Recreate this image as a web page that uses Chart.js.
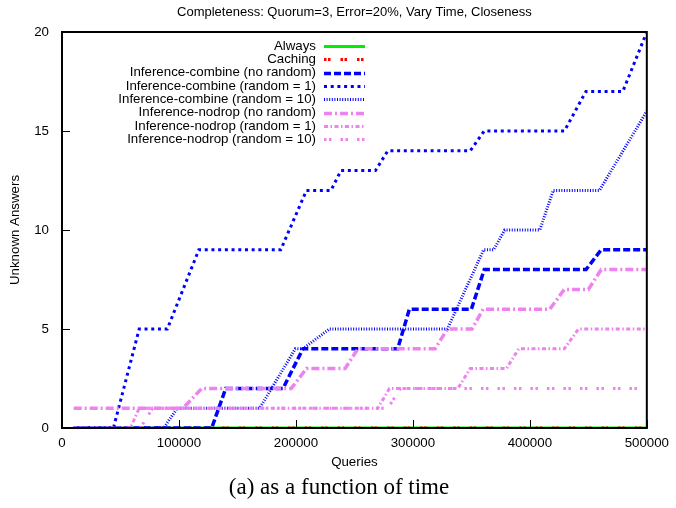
<!DOCTYPE html>
<html>
<head>
<meta charset="utf-8">
<script src="https://cdn.jsdelivr.net/npm/chart.js@4.4.1/dist/chart.umd.min.js"></script>
<style>
  html, body { margin: 0; padding: 0; background: #fff; }
  #wrap { width: 676px; height: 508px; position: relative; }
</style>
</head>
<body>
<div id="wrap"><canvas id="chart" width="676" height="508"></canvas></div>
<script>
// Axis ticks
const xTickValues = [0, 100000, 200000, 300000, 400000, 500000];
const yTickValues = [0, 5, 10, 15, 20];

// Series labels (legend order)
const seriesLabels = [
  'Always',
  'Caching',
  'Inference-combine (no random)',
  'Inference-combine (random = 1)',
  'Inference-combine (random = 10)',
  'Inference-nodrop (no random)',
  'Inference-nodrop (random = 1)',
  'Inference-nodrop (random = 10)'
];

// Queries / unknown answers per series
const alwaysQueries = [10000, 500000];
const alwaysValues  = [0, 0];

const cachingQueries = [10000, 500000];
const cachingValues  = [0, 0];

const combineNoRandomQueries = [10000, 128000, 140000, 189000, 206000, 287000, 297000, 350000, 361000, 448000, 461000, 500000];
const combineNoRandomValues  = [0, 0, 2, 2, 4, 4, 6, 6, 8, 8, 9, 9];

const combineRandom1Queries = [10000, 44000, 66000, 90000, 117000, 187000, 209000, 230000, 238500, 268000, 278500, 349000, 361000, 429500, 448000, 479500, 500000];
const combineRandom1Values  = [0, 0, 5, 5, 9, 9, 12, 12, 13, 13, 14, 14, 15, 15, 17, 17, 20];

const combineRandom10Queries = [10000, 87000, 98500, 169000, 199500, 206000, 228500, 329500, 360500, 369000, 378500, 408500, 420000, 459500, 500000];
const combineRandom10Values  = [0, 0, 1, 1, 4, 4, 5, 5, 9, 9, 10, 10, 12, 12, 16];

const nodropNoRandomQueries = [10000, 103500, 119500, 196000, 209000, 242000, 253000, 319000, 329500, 350500, 360000, 417000, 429500, 450000, 461000, 500000];
const nodropNoRandomValues  = [1, 1, 2, 2, 3, 3, 4, 4, 5, 5, 6, 6, 7, 7, 8, 8];

const nodropRandom1Queries = [10000, 58500, 66000, 270000, 280000, 338500, 349000, 380000, 390500, 429500, 441500, 500000];
const nodropRandom1Values  = [0, 0, 1, 1, 2, 2, 3, 3, 4, 4, 5, 5];

const nodropRandom10Queries = [10000, 67000, 77500, 278500, 289500, 500000];
const nodropRandom10Values  = [0, 0, 1, 1, 2, 2];

const toPoints = (qs, vs) => qs.map((q, i) => ({ x: q, y: vs[i] }));

const FONT = '"Liberation Sans", Arial, Helvetica, sans-serif';
const BLUE = '#0000ff';
const VIOLET = '#ee82ee';

const styles = [
  { color: '#00ee00', width: 3,   dash: [] },
  { color: '#ff0000', width: 3,   dash: [2.5, 1.5, 2.5, 10] },
  { color: BLUE,      width: 3.5, dash: [7, 3] },
  { color: BLUE,      width: 3,   dash: [3, 3.7] },
  { color: BLUE,      width: 3,   dash: [1, 1.6] },
  { color: VIOLET,    width: 3.5, dash: [8, 3, 2, 3] },
  { color: VIOLET,    width: 3,   dash: [4, 2.5, 1.5, 2.5] },
  { color: VIOLET,    width: 3,   dash: [2.5, 2.5, 2.5, 9] }
];

const seriesData = [
  toPoints(alwaysQueries, alwaysValues),
  toPoints(cachingQueries, cachingValues),
  toPoints(combineNoRandomQueries, combineNoRandomValues),
  toPoints(combineRandom1Queries, combineRandom1Values),
  toPoints(combineRandom10Queries, combineRandom10Values),
  toPoints(nodropNoRandomQueries, nodropNoRandomValues),
  toPoints(nodropRandom1Queries, nodropRandom1Values),
  toPoints(nodropRandom10Queries, nodropRandom10Values)
];

const datasets = seriesLabels.map((label, i) => ({
  label,
  data: seriesData[i],
  borderColor: styles[i].color,
  backgroundColor: styles[i].color,
  borderWidth: styles[i].width,
  borderDash: styles[i].dash,
  borderCapStyle: 'butt',
  pointRadius: 0,
  pointHoverRadius: 0,
  tension: 0,
  fill: false,
  order: -i   // later series are drawn on top
}));

// Frame, inward ticks, key and text labels
const decorations = {
  id: 'decorations',
  afterDatasetsDraw(chart) {
    const { ctx, chartArea: a, scales: { x, y } } = chart;
    ctx.save();

    // inward tick marks
    ctx.strokeStyle = '#000';
    ctx.lineWidth = 1;
    ctx.beginPath();
    xTickValues.forEach(v => {
      const px = Math.round(x.getPixelForValue(v)) + 0.5;
      ctx.moveTo(px, a.bottom);
      ctx.lineTo(px, a.bottom - 8);
    });
    yTickValues.forEach(v => {
      const py = Math.round(y.getPixelForValue(v)) + 0.5;
      ctx.moveTo(a.left, py);
      ctx.lineTo(a.left + 8, py);
    });
    ctx.stroke();

    // plot border
    ctx.lineWidth = 2;
    ctx.strokeRect(a.left, a.top, a.right - a.left, a.bottom - a.top);

    // key
    ctx.font = '13.3px ' + FONT;
    ctx.fillStyle = '#000';
    ctx.textAlign = 'right';
    ctx.textBaseline = 'middle';
    chart.data.datasets.forEach((ds, i) => {
      const ry = 46 + i * 13.33;
      ctx.fillText(ds.label, 316, ry);
      ctx.save();
      ctx.strokeStyle = ds.borderColor;
      ctx.lineWidth = ds.borderWidth;
      ctx.setLineDash(ds.borderDash);
      ctx.lineCap = 'butt';
      ctx.beginPath();
      ctx.moveTo(324, Math.round(ry) + 0.5);
      ctx.lineTo(365, Math.round(ry) + 0.5);
      ctx.stroke();
      ctx.restore();
    });

    // title and axis titles
    const cx = (a.left + a.right) / 2;
    const cy = (a.top + a.bottom) / 2;
    ctx.textAlign = 'center';
    ctx.font = '13px ' + FONT;
    ctx.fillText('Completeness: Quorum=3, Error=20%, Vary Time, Closeness', cx, 12);
    ctx.font = '13.3px ' + FONT;
    ctx.fillText('Queries', cx, 462);
    ctx.save();
    ctx.translate(15, cy);
    ctx.rotate(-Math.PI / 2);
    ctx.fillText('Unknown Answers', 0, 0);
    ctx.restore();

    // caption
    ctx.font = '23px "Liberation Serif", "Times New Roman", serif';
    ctx.fillText('(a) as a function of time', 339, 488);

    ctx.restore();
  }
};

new Chart(document.getElementById('chart'), {
  type: 'line',
  data: { datasets },
  options: {
    responsive: false,
    animation: false,
    events: [],
    layout: { padding: { left: 0, right: 25, top: 32, bottom: 0 } },
    plugins: { legend: { display: false }, tooltip: { enabled: false }, title: { display: false } },
    scales: {
      x: {
        type: 'linear',
        min: 0,
        max: 500000,
        afterBuildTicks: s => { s.ticks = xTickValues.map(v => ({ value: v })); },
        afterFit: s => { s.height = 80; },
        grid: { display: false, drawTicks: false },
        border: { display: false },
        ticks: {
          color: '#000',
          font: { family: FONT, size: 13.3 },
          padding: 7,
          maxRotation: 0,
          autoSkip: false,
          callback: v => String(v)
        }
      },
      y: {
        type: 'linear',
        min: 0,
        max: 20,
        afterBuildTicks: s => { s.ticks = yTickValues.map(v => ({ value: v })); },
        afterFit: s => { s.width = 62; },
        grid: { display: false, drawTicks: false },
        border: { display: false },
        ticks: {
          color: '#000',
          font: { family: FONT, size: 13.3 },
          padding: 13,
          callback: v => String(v)
        }
      }
    }
  },
  plugins: [decorations]
});
</script>
</body>
</html>
